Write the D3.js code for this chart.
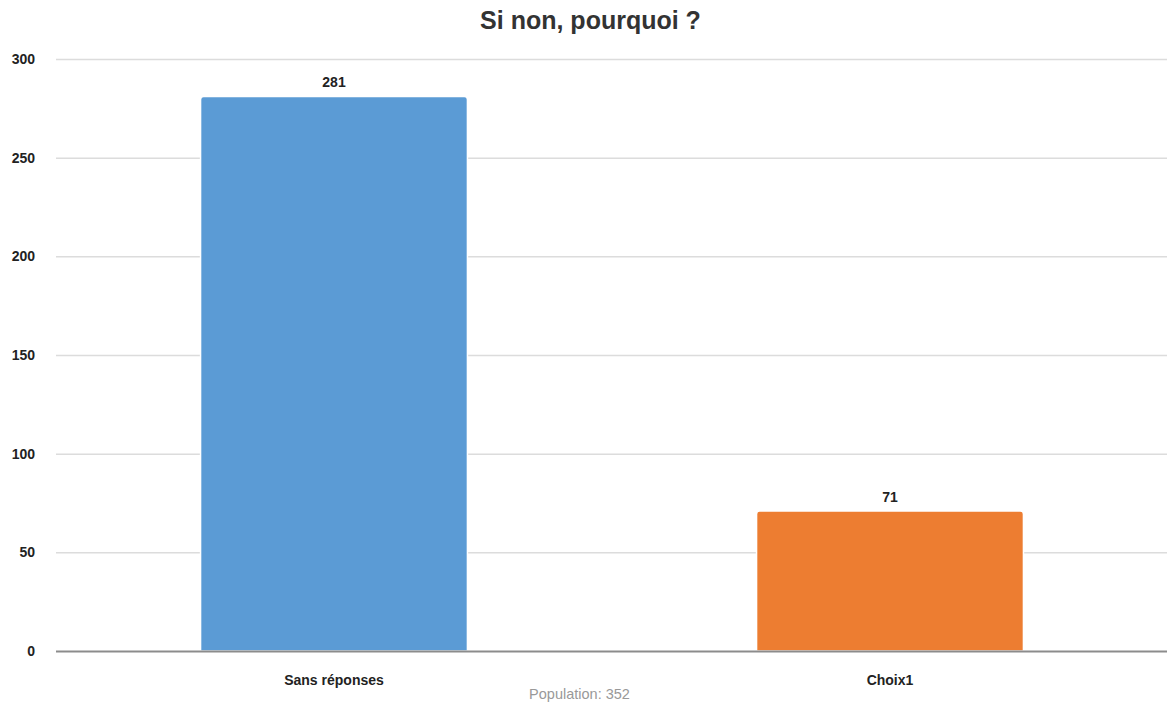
<!DOCTYPE html>
<html>
<head>
<meta charset="utf-8">
<script src="https://cdn.jsdelivr.net/npm/d3@7"></script>
<style>
  body { margin: 0; background: #fff; }
  text { font-family: "Liberation Sans", Arial, sans-serif; }
</style>
</head>
<body>
<div id="chart"></div>
<script>
const categories = ["Sans réponses", "Choix1"];
const values = [281, 71];
const colors = ["#5b9bd5", "#ed7d31"];
const yTicks = [0, 50, 100, 150, 200, 250, 300];
const title = "Si non, pourquoi ?";
const footer = "Population: 352";

const width = 1167;
const height = 706;
const margin = {top: 59, right: -1, bottom: 55, left: 56};

const svg = d3.select("#chart").append("svg")
  .attr("width", width)
  .attr("height", height);

const x = d3.scaleBand()
  .domain(categories)
  .range([margin.left, width - margin.right])
  .paddingInner(0.52)
  .paddingOuter(0.26);

const y = d3.scaleLinear()
  .domain([0, 300])
  .range([height - margin.bottom, margin.top]);

// grid
svg.append("g")
  .selectAll("line")
  .data(yTicks.filter(d => d > 0))
  .enter().append("line")
  .attr("x1", margin.left)
  .attr("x2", width)
  .attr("y1", d => y(d) + 0.5)
  .attr("y2", d => y(d) + 0.5)
  .attr("stroke", "#dcdcdc")
  .attr("stroke-width", 1.5);

// y labels
svg.append("g")
  .selectAll("text")
  .data(yTicks)
  .enter().append("text")
  .attr("x", 35)
  .attr("y", d => y(d))
  .attr("dy", "0.35em")
  .attr("text-anchor", "end")
  .attr("font-size", 14)
  .attr("font-weight", "bold")
  .attr("fill", "#222")
  .text(d => d);

// bars with rounded top
const r = 3;
svg.append("g")
  .selectAll("path")
  .data(values)
  .enter().append("path")
  .attr("d", (d, i) => {
    const x0 = x(categories[i]), x1 = x0 + x.bandwidth();
    const y0 = y(0), y1 = y(d);
    return `M${x0},${y0}V${y1 + r}Q${x0},${y1} ${x0 + r},${y1}H${x1 - r}Q${x1},${y1} ${x1},${y1 + r}V${y0}Z`;
  })
  .attr("fill", (d, i) => colors[i])
  .attr("stroke", "#fff")
  .attr("stroke-width", 1.5);

// baseline
svg.append("line")
  .attr("x1", margin.left)
  .attr("x2", width)
  .attr("y1", y(0) + 0.5)
  .attr("y2", y(0) + 0.5)
  .attr("stroke", "#8c8c8c")
  .attr("stroke-width", 2);

// value labels
svg.append("g")
  .selectAll("text")
  .data(values)
  .enter().append("text")
  .attr("x", (d, i) => x(categories[i]) + x.bandwidth() / 2)
  .attr("y", d => y(d) - 9)
  .attr("text-anchor", "middle")
  .attr("font-size", 14)
  .attr("font-weight", "bold")
  .attr("fill", "#222")
  .text(d => d);

// category labels
svg.append("g")
  .selectAll("text")
  .data(categories)
  .enter().append("text")
  .attr("x", d => x(d) + x.bandwidth() / 2)
  .attr("y", 685)
  .attr("text-anchor", "middle")
  .attr("font-size", 14)
  .attr("font-weight", "bold")
  .attr("fill", "#222")
  .text(d => d);

svg.append("text")
  .attr("x", width / 2 + 7)
  .attr("y", 29)
  .attr("text-anchor", "middle")
  .attr("font-size", 25)
  .attr("font-weight", "bold")
  .attr("fill", "#333")
  .text(title);

svg.append("text")
  .attr("x", width / 2 - 4)
  .attr("y", 699)
  .attr("text-anchor", "middle")
  .attr("font-size", 14.5)
  .attr("fill", "#999")
  .text(footer);
</script>
</body>
</html>
